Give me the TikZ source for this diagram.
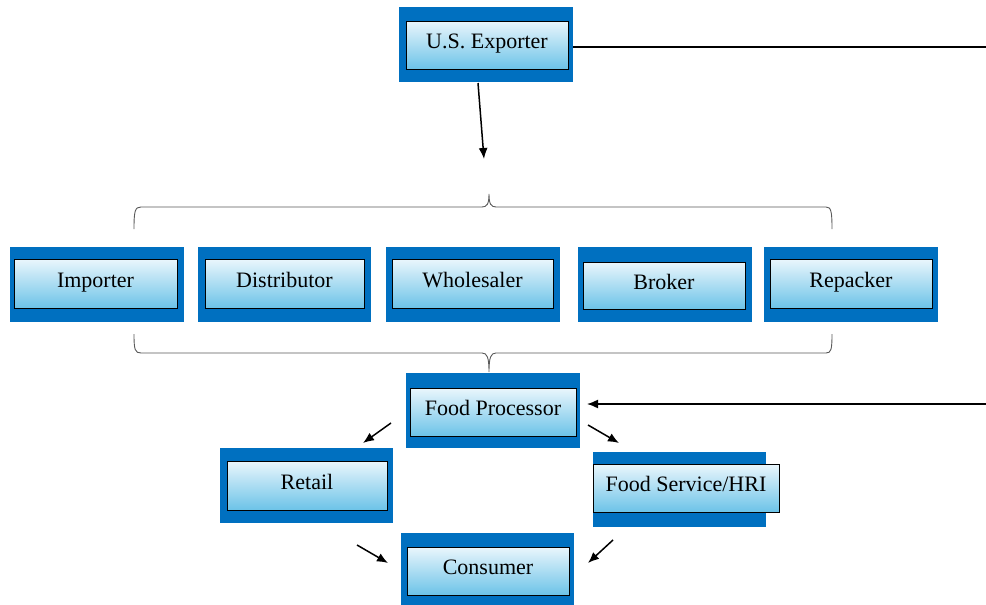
\documentclass[tikz,border=0pt]{standalone}
\usepackage{fontspec}
\setmainfont{Liberation Serif}
\usetikzlibrary{arrows.meta}
\definecolor{outerblue}{HTML}{0070C0}
\definecolor{gtop}{HTML}{EAF6FC}
\definecolor{gbot}{HTML}{6CC3E8}
\tikzset{
  outerbox/.style={fill=outerblue, draw=none, inner sep=0pt},
  innerbox/.style={draw=black, line width=1pt, top color=gtop, bottom color=gbot, inner sep=0pt, text height=13pt, text depth=6pt, font=\fontsize{22}{24}\selectfont, text=black},
  arr/.style={line width=1.5pt, -{Latex[length=11pt,width=9pt]}},
  brace/.style={draw=black!65, line width=0.9pt},
  plain/.style={line width=1.3pt}
}
\begin{document}
\begin{tikzpicture}[x=1pt,y=-1pt]
\useasboundingbox (0,0) rectangle (986,605);
% outer boxes
\node[outerbox, minimum width=174pt, minimum height=75pt] (expo) at (486,44.5) {};
\node[outerbox, minimum width=174pt, minimum height=75pt] (impo) at (97,284) {};
\node[outerbox, minimum width=173pt, minimum height=75pt] (disto) at (284.5,284) {};
\node[outerbox, minimum width=174pt, minimum height=75pt] (wholo) at (473,284) {};
\node[outerbox, minimum width=174pt, minimum height=75pt] (broko) at (665,284.5) {};
\node[outerbox, minimum width=174pt, minimum height=75pt] (repo) at (851,284) {};
\node[outerbox, minimum width=174pt, minimum height=75pt] (fpo) at (493,410.5) {};
\node[outerbox, minimum width=173pt, minimum height=75pt] (reto) at (306.5,485.5) {};
\node[outerbox, minimum width=173pt, minimum height=75pt] (fso) at (679.5,489.5) {};
\node[outerbox, minimum width=173pt, minimum height=75pt] (cono) at (487.5,570) {};
% inner boxes
\node[innerbox, minimum width=162pt, minimum height=48pt] (exp) at (487,45) {U.S. Exporter};
\node[innerbox, minimum width=163pt, minimum height=49pt] (imp) at (95.5,283.5) {Importer};
\node[innerbox, minimum width=159pt, minimum height=49pt] (dist) at (284.5,283.5) {Distributor};
\node[innerbox, minimum width=161pt, minimum height=49pt] (whole) at (472.5,283.5) {Wholesaler};
\node[innerbox, minimum width=162pt, minimum height=47pt] (brok) at (664,285.5) {Broker};
\node[innerbox, minimum width=162pt, minimum height=49pt] (rep) at (851,283.5) {Repacker};
\node[innerbox, minimum width=166pt, minimum height=48pt] (fp) at (493,412) {Food Processor};
\node[innerbox, minimum width=160pt, minimum height=49pt] (ret) at (307,485.5) {Retail};
\node[innerbox, minimum width=186pt, minimum height=48pt] (fs) at (686,488) {Food Service/HRI};
\node[innerbox, minimum width=162pt, minimum height=48pt] (con) at (488,571) {Consumer};
% coordinates
\coordinate (ex1) at (986,47);
\coordinate (fpin) at (986,404);
\coordinate (fpend) at (587,404);
\coordinate (a1s) at (478,83);
\coordinate (a1e) at (484,159);
\coordinate (a2s) at (391,423);
\coordinate (a2e) at (363,443);
\coordinate (a3s) at (588,425);
\coordinate (a3e) at (619,443);
\coordinate (a4s) at (357,545);
\coordinate (a4e) at (388,563);
\coordinate (a5s) at (613,540);
\coordinate (a5e) at (588,563);
% connectors
\draw[plain] (expo.east |- ex1) -- (ex1);
\draw[arr] (fpin) -- (fpend);
\draw[arr] (a1s) -- (a1e);
\draw[arr] (a2s) -- (a2e);
\draw[arr] (a3s) -- (a3e);
\draw[arr] (a4s) -- (a4e);
\draw[arr] (a5s) -- (a5e);
% braces
\draw[brace] (134,229) .. controls (134,211) and (135,207) .. (141,207) -- (482,207)
  .. controls (487,207) and (489,204) .. (489,194)
  .. controls (489,204) and (491,207) .. (496,207) -- (826,207)
  .. controls (831,207) and (832,211) .. (832,229);
\draw[brace] (134,334) .. controls (134,350) and (135,353) .. (141,353) -- (482,353)
  .. controls (487,353) and (489,357) .. (489,372)
  .. controls (489,357) and (491,353) .. (496,353) -- (826,353)
  .. controls (831,353) and (832,350) .. (832,334);
\end{tikzpicture}
\end{document}
